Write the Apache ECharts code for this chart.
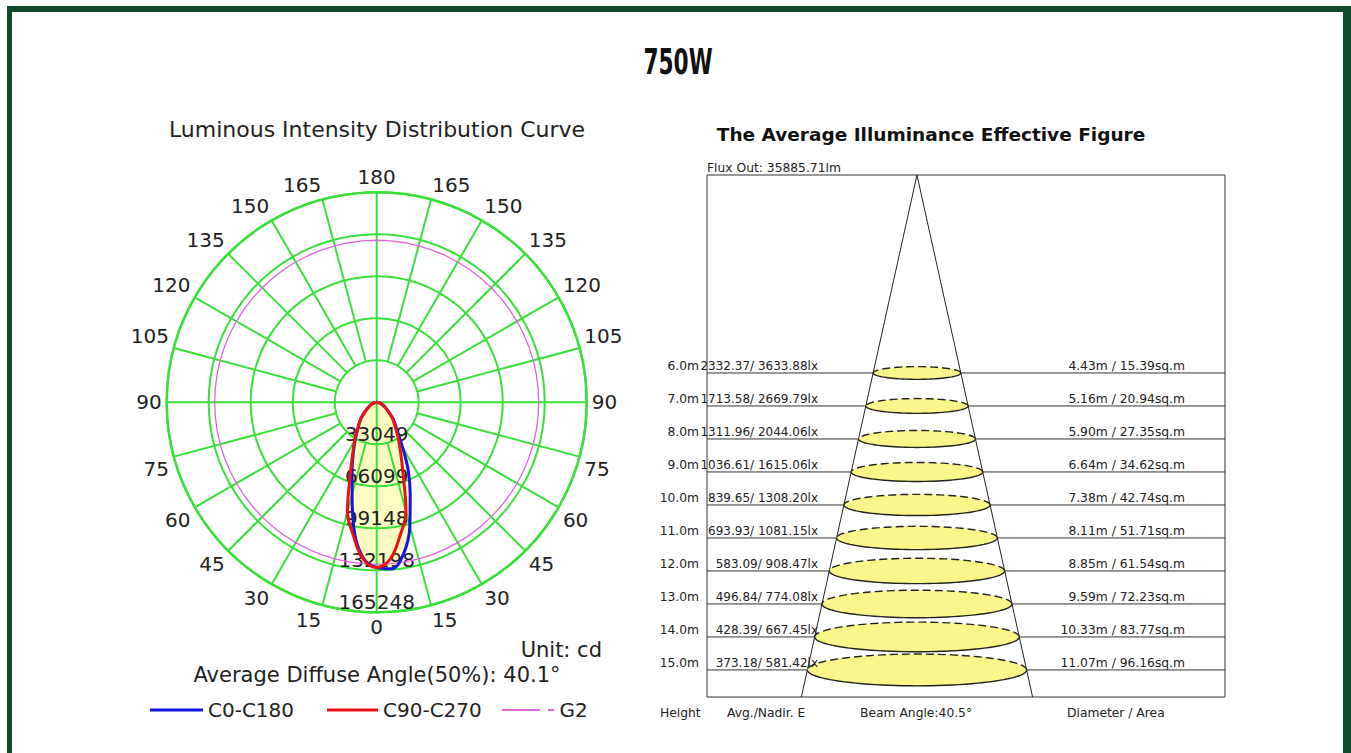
<!DOCTYPE html>
<html><head><meta charset="utf-8">
<script src="https://cdn.jsdelivr.net/npm/echarts@6/dist/echarts.min.js"></script>
<style>
html,body{margin:0;padding:0;background:#fff;width:1351px;height:753px;overflow:hidden}
#frame{position:absolute;left:7px;top:6px;width:1331px;height:800px;border-left:5px solid #0f4a2b;border-top:6px solid #0f4a2b;border-right:8px solid #0f4a2b;}
#chart{position:absolute;left:0;top:0;width:1351px;height:753px}
</style></head><body><div id="frame"></div><div id="chart"></div>
<script>
// ---------- Luminous intensity distribution data (cd) ----------
const gammaDeg = [0,5,10,15,20,25,30,35,40,45,50,55,60,65,70,75,80,85,90];
const c0RightCd  = [130000,131500,121200,100700,77100,58500,40500,28300,22800,18100,13400,9800,7500,5500,3900,2800,1600,800,0];
const c0LeftCd   = [130000,122800,102300,74800,56700,43300,33800,26000,21200,17300,12600,9400,7100,5500,3900,2800,1600,800,0];
const c90Cd      = [129900,123600,106200,89000,61000,44800,34600,26800,21200,17300,12600,9400,7100,5500,3900,2800,1600,800,0];
const g2Cd = 127500;
const g2Angles = [0,5,10,15,20,25,30,35,40,45,50,55,60,65,70,75,80,85,90,95,100,105,110,115,120,125,130,135,140,145,150,155,160,165,170,175,180,185,190,195,200,205,210,215,220,225,230,235,240,245,250,255,260,265,270,275,280,285,290,295,300,305,310,315,320,325,330,335,340,345,350,355,360];
const radiusMax = 165248;
const radiusTickLabels = ['33049','66099','99148','132198','165248'];
const diffuseAngle = '40.1°';

// ---------- Average illuminance figure data ----------
const heights = [6,7,8,9,10,11,12,13,14,15];
const heightLabels = ['6.0m','7.0m','8.0m','9.0m','10.0m','11.0m','12.0m','13.0m','14.0m','15.0m'];
const avgNadirLabels = ['2332.37/ 3633.88lx','1713.58/ 2669.79lx','1311.96/ 2044.06lx','1036.61/ 1615.06lx','839.65/ 1308.20lx','693.93/ 1081.15lx','583.09/ 908.47lx','496.84/ 774.08lx','428.39/ 667.45lx','373.18/ 581.42lx'];
const diameters = [4.43,5.16,5.90,6.64,7.38,8.11,8.85,9.59,10.33,11.07];
const areaLabels = ['4.43m / 15.39sq.m','5.16m / 20.94sq.m','5.90m / 27.35sq.m','6.64m / 34.62sq.m','7.38m / 42.74sq.m','8.11m / 51.71sq.m','8.85m / 61.54sq.m','9.59m / 72.23sq.m','10.33m / 83.77sq.m','11.07m / 96.16sq.m'];
const beamAngle = 40.5;
const fluxOut = '35885.71lm';

// ---------- styling ----------
const GREEN = '#38e038';
const FONT = 'DejaVu Sans';
const C = [376.7, 402.3];
const R = 210;
const depthMax = 15.82;
const SMALL = 12.3;

function lobe(leftArr, rightArr) {
  const pts = [];
  for (let i = gammaDeg.length - 1; i >= 0; i--) pts.push([rightArr[i], (360 - gammaDeg[i]) % 360]);
  for (let i = 1; i < gammaDeg.length; i++) pts.push([leftArr[i], gammaDeg[i]]);
  return pts;
}
const blueData = lobe(c0LeftCd, c0RightCd);
const redData = lobe(c90Cd, c90Cd);
const g2Data = g2Angles.map(a => [g2Cd, a]);

const halfTan = Math.tan(beamAngle / 2 * Math.PI / 180);
const coneData = [[-depthMax * halfTan, depthMax], [0, 0], [depthMax * halfTan, depthMax]];

const chart = echarts.init(document.getElementById('chart'), null, {renderer: 'svg'});

function txt(x, y, text, size, align, extra) {
  return {type: 'text', x: x, y: y, style: Object.assign({
    text: text, fontSize: size, fontFamily: FONT, fill: '#222',
    align: align, textAlign: align, verticalAlign: 'middle', textVerticalAlign: 'middle'
  }, extra || {})};
}

const lab = {fontSize: 20, fontFamily: FONT, color: '#222'};
const angleRich = {
  pr2: Object.assign({padding: [0, 25, 0, 0]}, lab),
  pr3: Object.assign({padding: [0, 38, 0, 0]}, lab),
  pl2: Object.assign({padding: [0, 0, 0, 25]}, lab),
  pl3: Object.assign({padding: [0, 0, 0, 38]}, lab),
  pt: Object.assign({padding: [22, 0, 0, 0]}, lab),
  pb: Object.assign({padding: [0, 0, 22, 0]}, lab)
};
const angleTag = {15: 'pr2', 165: 'pr3', 345: 'pl2', 195: 'pl3', 75: 'pt', 285: 'pt', 105: 'pb', 255: 'pb'};

const option = {
  animation: false,
  polar: [
    {center: C, radius: R},
    {center: C, radius: [R / 5, R]},
    {center: C, radius: R / 5}
  ],
  angleAxis: [
    {polarIndex: 0, type: 'value', min: 0, max: 360, interval: 15, startAngle: 270, clockwise: true, z: 3,
     axisLine: {show: true, lineStyle: {color: GREEN, width: 2.5}},
     axisTick: {show: false}, splitLine: {show: false},
     axisLabel: {show: true, margin: 5, fontSize: 20, fontFamily: FONT, color: '#222', rich: angleRich,
       formatter: v => {
         if (v >= 360) return '';
         const s = String(v <= 180 ? v : 360 - v);
         return angleTag[v] ? '{' + angleTag[v] + '|' + s + '}' : s;
       }}},
    {polarIndex: 1, type: 'value', min: 0, max: 360, interval: 15, startAngle: 270, z: 3,
     axisLine: {show: false}, axisTick: {show: false}, axisLabel: {show: false},
     splitLine: {show: true, lineStyle: {color: GREEN, width: 2}}},
    {polarIndex: 2, type: 'value', min: 0, max: 360, interval: 90, startAngle: 270, z: 3,
     axisLine: {show: false}, axisTick: {show: false}, axisLabel: {show: false},
     splitLine: {show: true, lineStyle: {color: GREEN, width: 2}}}
  ],
  radiusAxis: [
    {polarIndex: 0, type: 'value', min: 0, max: radiusMax, interval: radiusMax / 5, z: 3,
     axisLine: {show: false}, axisTick: {show: false},
     splitLine: {show: true, lineStyle: {color: GREEN, width: 2}},
     axisLabel: {show: true, margin: 0, align: 'center', verticalAlign: 'bottom', showMinLabel: false,
       fontSize: 20, fontFamily: FONT, color: '#222',
       formatter: v => radiusTickLabels[Math.round(v / (radiusMax / 5)) - 1] || ''}},
    {polarIndex: 1, type: 'value', min: 0, max: 1, show: false},
    {polarIndex: 2, type: 'value', min: 0, max: 1, show: false}
  ],
  grid: {left: 707, top: 175, width: 518, height: 522, show: true, borderColor: '#333', borderWidth: 1, backgroundColor: 'transparent'},
  xAxis: {type: 'value', min: -10.6, max: 15.55, show: false},
  yAxis: {type: 'value', min: 0, max: depthMax, inverse: true, show: false},
  legend: [
    {data: [{name: 'C0-C180', icon: 'rect'}], left: 150, top: 700, padding: 0, itemWidth: 53, itemHeight: 3,
     textStyle: {fontSize: 20, fontFamily: FONT, color: '#222'}, selectedMode: false},
    {data: [{name: 'C90-C270', icon: 'rect'}], left: 327, top: 700, padding: 0, itemWidth: 51, itemHeight: 3,
     textStyle: {fontSize: 20, fontFamily: FONT, color: '#222'}, selectedMode: false},
    {data: [{name: 'G2', icon: 'path://M0,0H38V2H0Z M46,0H52V2H46Z'}], left: 502, top: 700, padding: 0, itemWidth: 53, itemHeight: 2,
     textStyle: {fontSize: 20, fontFamily: FONT, color: '#222'}, selectedMode: false}
  ],
  series: [
    {name: 'fillBlue', type: 'line', coordinateSystem: 'polar', polarIndex: 0, data: blueData, smooth: 0.4,
     symbol: 'none', z: 1, lineStyle: {width: 0, opacity: 0}, areaStyle: {color: '#fdfdc2', opacity: 1}, silent: true},
    {name: 'fillRed', type: 'line', coordinateSystem: 'polar', polarIndex: 0, data: redData, smooth: 0.4,
     symbol: 'none', z: 1, lineStyle: {width: 0, opacity: 0}, areaStyle: {color: '#fdfdc2', opacity: 1}, silent: true},
    {name: 'G2', type: 'line', coordinateSystem: 'polar', polarIndex: 0, data: g2Data,
     symbol: 'none', z: 4, color: '#dd66dd', lineStyle: {color: '#dd66dd', width: 1.3}},
    {name: 'C0-C180', type: 'line', coordinateSystem: 'polar', polarIndex: 0, data: blueData, smooth: 0.4,
     symbol: 'none', z: 5, color: '#1414e0', lineStyle: {color: '#1414e0', width: 3}},
    {name: 'C90-C270', type: 'line', coordinateSystem: 'polar', polarIndex: 0, data: redData, smooth: 0.4,
     symbol: 'none', z: 6, color: '#ee1111', lineStyle: {color: '#ee1111', width: 3}},
    {name: 'cone', type: 'line', xAxisIndex: 0, yAxisIndex: 0, data: coneData, symbol: 'none', z: 2,
     lineStyle: {color: '#222', width: 1}},
    {name: 'rows', type: 'custom', xAxisIndex: 0, yAxisIndex: 0, z: 3,
     data: heights.map((h, i) => [h, diameters[i], i]),
     renderItem: function (params, api) {
       const i = api.value(2), h = api.value(0), d = api.value(1);
       const c = api.coord([0, h]);
       const e = api.coord([d / 2, h]);
       const rx = e[0] - c[0], ry = rx * 0.145;
       const cs = params.coordSys;
       const top = [], bot = [];
       for (let k = 0; k <= 48; k++) {
         const t = Math.PI * k / 48;
         top.push([c[0] + rx * Math.cos(t), c[1] - ry * Math.sin(t)]);
         bot.push([c[0] + rx * Math.cos(t), c[1] + ry * Math.sin(t)]);
       }
       const ty = c[1] - 7;
       return {type: 'group', children: [
         {type: 'line', shape: {x1: cs.x, y1: c[1], x2: cs.x + cs.width, y2: c[1]}, style: {stroke: '#333', lineWidth: 1}},
         {type: 'ellipse', shape: {cx: c[0], cy: c[1], rx: rx, ry: ry}, style: {fill: '#fbf68a', stroke: null}},
         {type: 'polyline', shape: {points: top}, style: {stroke: '#222', lineWidth: 1.4, lineDash: [8, 4], fill: null}},
         {type: 'polyline', shape: {points: bot}, style: {stroke: '#222', lineWidth: 1.4, fill: null}},
         txt(cs.x - 8, ty, heightLabels[i], SMALL, 'right'),
         txt(cs.x + 111, ty, avgNadirLabels[i], 12, 'right'),
         txt(cs.x + 478, ty, areaLabels[i], SMALL, 'right')
       ]};
     }}
  ],
  graphic: [
    {type: 'text', x: 678, y: 62, scaleX: 0.62, style: {text: '750W', fontSize: 35, fontWeight: 'bold', fontFamily: FONT, fill: '#111',
      align: 'center', textAlign: 'center', verticalAlign: 'middle', textVerticalAlign: 'middle'}},
    txt(377, 129, 'Luminous Intensity Distribution Curve', 22, 'center'),
    txt(602, 650, 'Unit: cd', 21, 'right'),
    txt(377, 675, 'Average Diffuse Angle(50%): ' + diffuseAngle, 21, 'center'),
    txt(931, 134, 'The Average Illuminance Effective Figure', 18.5, 'center', {fontWeight: 'bold', fill: '#111'}),
    txt(707, 168, 'Flux Out: ' + fluxOut, SMALL, 'left'),
    txt(660, 713, 'Height', SMALL, 'left'),
    txt(727, 713, 'Avg./Nadir. E', SMALL, 'left'),
    txt(860, 713, 'Beam Angle:' + beamAngle + '°', SMALL, 'left'),
    txt(1067, 713, 'Diameter / Area', SMALL, 'left')
  ]
};
chart.setOption(option);
</script></body></html>
